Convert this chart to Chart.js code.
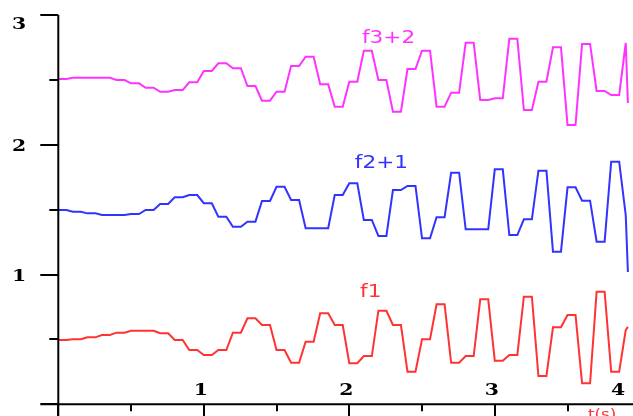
<!DOCTYPE html>
<html lang="en">
<head>
  <meta charset="UTF-8" />
  <title>f1, f2+1, f3+2 over t(s)</title>
  <script src="https://cdn.jsdelivr.net/npm/chart.js"></script>
  <style>
    html, body { margin: 0; padding: 0; background: #fff; }
    #wrap { width: 633px; height: 416px; }
  </style>
</head>
<body>
  <div id="wrap"><canvas id="chart" width="633" height="416"></canvas></div>

  <script>
    // each sample is held flat from sampleT[i] to holdT[i], then ramps to the next one
    const sampleT = [0.00, 0.10, 0.20, 0.30, 0.40, 0.50, 0.60, 0.70, 0.80, 0.90,
                     1.00, 1.10, 1.20, 1.30, 1.40, 1.50, 1.60, 1.70, 1.80, 1.90,
                     2.00, 2.10, 2.20, 2.30, 2.40, 2.50, 2.60, 2.70, 2.80, 2.90,
                     3.00, 3.10, 3.20, 3.30, 3.40, 3.50, 3.60, 3.70, 3.80, 3.90, 3.915];
    const holdT = [0.055, 0.155, 0.255, 0.355, 0.455, 0.555, 0.655, 0.755, 0.855, 0.955,
                   1.055, 1.155, 1.255, 1.355, 1.455, 1.555, 1.655, 1.755, 1.855, 1.955,
                   2.055, 2.155, 2.255, 2.355, 2.455, 2.555, 2.655, 2.755, 2.855, 2.955,
                   3.055, 3.155, 3.255, 3.355, 3.455, 3.555, 3.655, 3.755, 3.855, 3.900, 3.915];

    const f1 = [0.495, 0.501, 0.516, 0.534, 0.552, 0.567, 0.567, 0.547, 0.495, 0.418,
                0.380, 0.418, 0.552, 0.663, 0.611, 0.418, 0.320, 0.482, 0.701, 0.611,
                0.316, 0.372, 0.721, 0.611, 0.251, 0.501, 0.770, 0.320, 0.372, 0.809,
                0.336, 0.380, 0.829, 0.218, 0.593, 0.688, 0.162, 0.867, 0.251, 0.572, 0.596];
    const f2plus1 = [1.497, 1.484, 1.471, 1.458, 1.458, 1.466, 1.497, 1.543, 1.595, 1.612,
                     1.549, 1.445, 1.368, 1.407, 1.566, 1.676, 1.574, 1.356, 1.356, 1.612,
                     1.703, 1.420, 1.297, 1.651, 1.682, 1.279, 1.441, 1.784, 1.348, 1.348,
                     1.810, 1.304, 1.425, 1.800, 1.176, 1.672, 1.569, 1.253, 1.869, 1.458, 1.019];
    const f3plus2 = [2.506, 2.516, 2.516, 2.516, 2.498, 2.473, 2.439, 2.408, 2.421, 2.481,
                     2.568, 2.627, 2.589, 2.452, 2.339, 2.408, 2.606, 2.678, 2.465, 2.293,
                     2.485, 2.724, 2.498, 2.254, 2.583, 2.724, 2.293, 2.401, 2.786, 2.344,
                     2.357, 2.817, 2.267, 2.485, 2.750, 2.152, 2.776, 2.414, 2.383, 2.784, 2.321];

    const yTicks = [0, 0.5, 1, 1.5, 2, 2.5, 3];
    const yTickLabels = ['', '', '1', '', '2', '', '3'];
    const xTicks = [0, 0.5, 1, 1.5, 2, 2.5, 3, 3.5, 4];
    const xTickLabels = ['', '', '1', '', '2', '', '3', '', '4'];

    const RED = '#ff3333', BLUE = '#3333ff', MAGENTA = '#ff33ff';
    const STRETCH = 1.2; // text in the picture is drawn a bit wide

    function toPoints(vals) {
      const pts = [];
      vals.forEach((v, i) => {
        pts.push({ x: sampleT[i], y: v });
        if (holdT[i] > sampleT[i]) pts.push({ x: holdT[i], y: v });
      });
      return pts;
    }

    function wideText(ctx, text, x, y, align) {
      ctx.save();
      ctx.translate(x, y);
      ctx.scale(STRETCH, 1);
      ctx.textAlign = align;
      ctx.fillText(text, 0, 0);
      ctx.restore();
    }

    const axesPlugin = {
      id: 'axes',
      afterDraw(chart) {
        const { ctx, scales: { x, y } } = chart;
        const x0 = x.getPixelForValue(0);
        const y0 = y.getPixelForValue(0);
        ctx.save();
        ctx.strokeStyle = '#000';
        ctx.lineWidth = 2;
        ctx.beginPath();
        ctx.moveTo(x0, y.getPixelForValue(3));
        ctx.lineTo(x0, chart.height);
        ctx.moveTo(x0 - 18, y0);
        ctx.lineTo(chart.width, y0);
        yTicks.forEach(v => {
          const py = Math.round(y.getPixelForValue(v));
          ctx.moveTo(x0 - (Number.isInteger(v) ? 18 : 9), py);
          ctx.lineTo(x0, py);
        });
        xTicks.forEach(v => {
          const px = Math.round(x.getPixelForValue(v));
          ctx.moveTo(px, y0);
          ctx.lineTo(px, y0 + (Number.isInteger(v) ? 14 : 7));
        });
        ctx.stroke();

        // tick labels
        ctx.fillStyle = '#000';
        ctx.font = 'bold 17px "DejaVu Serif"';
        ctx.textBaseline = 'alphabetic';
        yTicks.forEach((v, i) => {
          if (!yTickLabels[i]) return;
          const py = Math.max(y.getPixelForValue(v), 23);
          wideText(ctx, yTickLabels[i], 19, py + 6, 'center');
        });
        xTicks.forEach((v, i) => {
          if (!xTickLabels[i]) return;
          const px = Math.min(x.getPixelForValue(v) - 3, 618);
          wideText(ctx, xTickLabels[i], px, y0 - 9, 'center');
        });

        // axis title, cut by the bottom edge
        ctx.fillStyle = RED;
        ctx.font = '14px "DejaVu Sans"';
        wideText(ctx, 't(s)', x.getPixelForValue(3.64), y0 + 15, 'left');

        // series names
        ctx.font = '18px "DejaVu Sans"';
        [['f3+2', MAGENTA, 2.087, 2.83], ['f2+1', BLUE, 2.038, 1.874], ['f1', RED, 2.074, 0.873]]
          .forEach(([txt, col, tx, ty]) => {
            ctx.fillStyle = col;
            wideText(ctx, txt, x.getPixelForValue(tx), y.getPixelForValue(ty) + 6.5, 'left');
          });
        ctx.restore();
      }
    };

    const line = (label, vals, color) => ({
      label,
      data: toPoints(vals),
      borderColor: color,
      borderWidth: 2,
      pointRadius: 0,
      tension: 0,
      fill: false
    });

    new Chart(document.getElementById('chart').getContext('2d'), {
      type: 'line',
      data: {
        datasets: [
          line('f1', f1, RED),
          line('f2+1', f2plus1, BLUE),
          line('f3+2', f3plus2, MAGENTA)
        ]
      },
      options: {
        responsive: false,
        animation: false,
        layout: { padding: 0 },
        plugins: { legend: { display: false }, tooltip: { enabled: false } },
        scales: {
          x: { type: 'linear', min: -0.4007, max: 3.950, display: false },
          y: { type: 'linear', min: -0.0901, max: 3.1148, display: false }
        }
      },
      plugins: [axesPlugin]
    });
  </script>
</body>
</html>
